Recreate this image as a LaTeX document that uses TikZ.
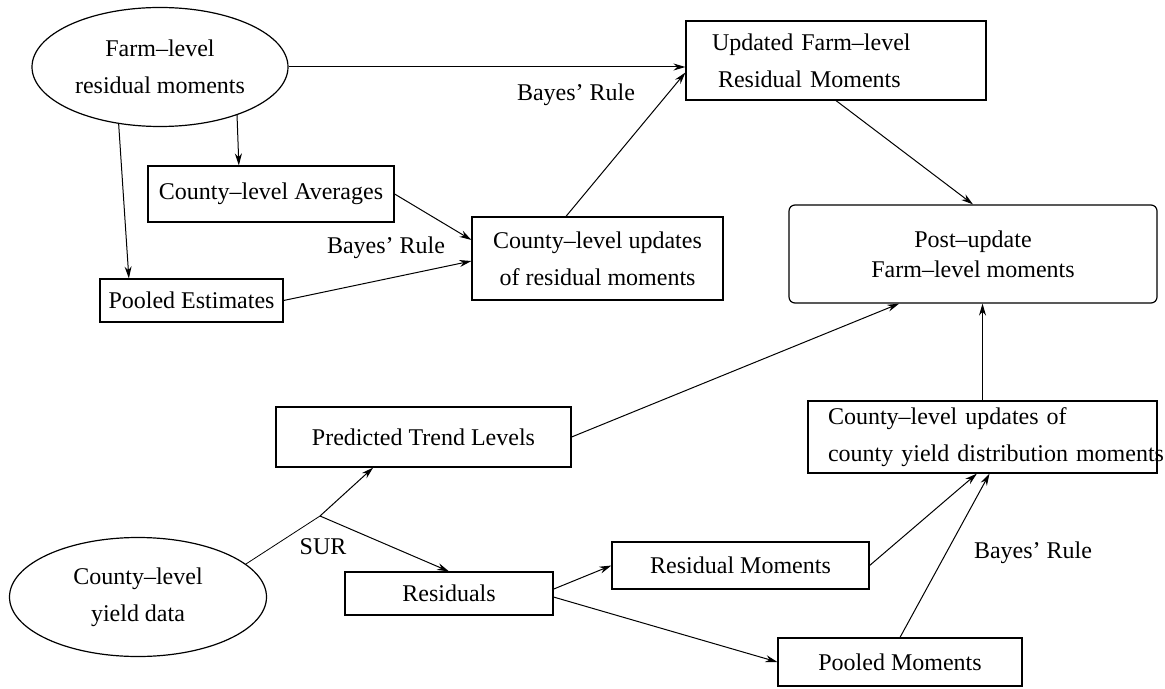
\documentclass[tikz,border=0pt]{standalone}
\usepackage{fontspec}
\setmainfont{Liberation Serif}
\usetikzlibrary{arrows.meta,shapes.geometric,calc}

\begin{document}
\begin{tikzpicture}[x=0.5pt,y=-0.5pt,
    every node/.style={font=\fontsize{12}{18.5}\selectfont},
    box/.style={draw,line width=0.6pt,inner sep=0pt,align=center},
    oval/.style={draw,ellipse,line width=0.6pt,inner sep=0pt,align=center},
    arr/.style={-{Stealth[length=6pt,width=3.5pt]},line width=0.5pt},
    lbl/.style={inner sep=0pt}]
\useasboundingbox (0,0) rectangle (1165,689);

% farm-level side
\node[oval,minimum width=128pt,minimum height=59.5pt] (farm) at (160,67) {Farm–level\\residual moments};
\node[box,minimum width=123pt,minimum height=28pt] (avg) at (271,194) {County–level Averages};
\node[box,minimum width=91.5pt,minimum height=21.5pt] (pooledest) at (191.5,300.5) {Pooled Estimates};
\node[box,minimum width=125.5pt,minimum height=41.5pt] (cntyupd) at (597.5,258.5) {County–level updates\\of residual moments};
\node[box,align=left,text width=124pt,inner xsep=13pt,minimum height=39.5pt] (updated) at (836,60.5) {Updated Farm–level\\\hspace*{3pt}Residual Moments};
\node[box,rounded corners=3pt,minimum width=184pt,minimum height=49pt,font=\fontsize{12}{15}\selectfont] (post) at (973,254) {Post–update\\Farm–level moments};

% county-level side
\node[oval,minimum width=128.5pt,minimum height=59.5pt] (cntyyield) at (138,597) {County–level\\yield data};
\node[box,minimum width=147.5pt,minimum height=30pt] (trend) at (423.5,437) {Predicted Trend Levels};
\node[box,minimum width=104pt,minimum height=21.5pt] (resid) at (449,593.5) {Residuals};
\node[box,minimum width=128.5pt,minimum height=23.5pt] (residmom) at (740.5,565.5) {Residual Moments};
\node[box,minimum width=122pt,minimum height=24pt] (pooledmom) at (900,662) {Pooled Moments};
\node[box,align=left,text width=154.5pt,inner xsep=10pt,minimum height=36pt] (yieldupd) at (982.5,437) {\mbox{County–level updates of}\\\mbox{county yield distribution moments}};

% labels
\node[lbl] (bayesa) at (576,95) {Bayes' Rule};
\node[lbl] (bayesb) at (386,248) {Bayes' Rule};
\node[lbl] (bayesc) at (1033,553) {Bayes' Rule};
\node[lbl] (sur) at (323,547) {SUR};
\coordinate (split) at (320,516);

\draw[arr] (farm.east) -- (farm.east -| updated.west);
\draw[arr] (farm.234) -- ($(pooledest.north west)!0.16!(pooledest.north east)$);
\draw[arr] (farm.328) -- ($(avg.north west)!0.37!(avg.north east)$);
\draw[arr] (avg.east) -- ($(cntyupd.north west)!0.28!(cntyupd.south west)$);
\draw[arr] (pooledest.east) -- ($(cntyupd.north west)!0.53!(cntyupd.south west)$);
\draw[arr] ($(cntyupd.north west)!0.375!(cntyupd.north east)$) -- ($(updated.north west)!0.65!(updated.south west)$);
\draw[arr] (updated.south) -- (post.north);
\draw[arr] (trend.east) -- ($(post.south west)!0.3!(post.south east)$);
\draw[arr] (yieldupd.north) -- (yieldupd.north |- post.south);
\draw (cntyyield.17) -- (split);
\draw[arr] (split) -- ($(trend.south west)!0.33!(trend.south east)$);
\draw[arr] (split) -- (resid.north);
\draw[arr] ($(resid.north east)!0.4!(resid.south east)$) -- (residmom.west);
\draw[arr] ($(resid.north east)!0.58!(resid.south east)$) -- (pooledmom.west);
\draw[arr] (residmom.east) -- ($(yieldupd.south west)!0.484!(yieldupd.south east)$);
\draw[arr] (pooledmom.north) -- ($(yieldupd.south west)!0.52!(yieldupd.south east)$);
\end{tikzpicture}
\end{document}
